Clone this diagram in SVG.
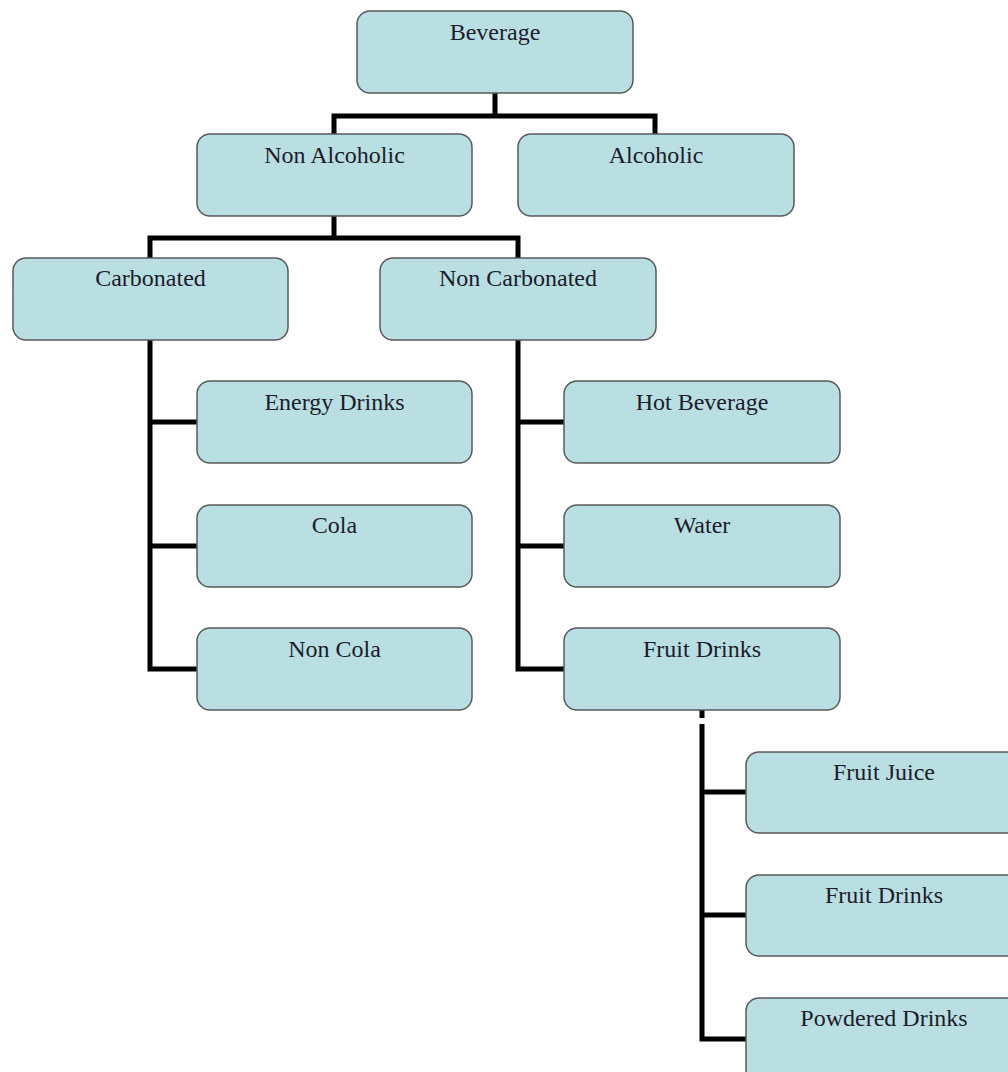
<svg xmlns="http://www.w3.org/2000/svg" width="1008" height="1072" viewBox="0 0 1008 1072">
<style>
.box{fill:#b9dfe3;stroke:#5a5a5a;stroke-width:1.5}
.lbl{font-family:'Liberation Serif','DejaVu Serif',serif;font-size:24px;fill:#1c1c2a;text-anchor:middle}
.con{fill:none;stroke:#000;stroke-width:5;stroke-linejoin:miter;stroke-linecap:butt}
</style>
<rect width="1008" height="1072" fill="#fff"/>
<g id="connectors">
<path class="con" d="M495 93 V116 M334 134 V116 H655 V134"/>
<path class="con" d="M334 216 V238 M150 258 V238 H518 V258"/>
<path class="con" d="M150 340 V669 H197 M150 422 H197 M150 546 H197"/>
<path class="con" d="M518 340 V669 H564 M518 422 H564 M518 546 H564"/>
<path class="con" d="M702 710 V718 M702 724 V1039 H746 M702 792 H746 M702 915 H746"/>
</g>
<g id="beverage"><rect class="box" x="357" y="11" width="276" height="82" rx="13"/><text class="lbl" x="495" y="40" font-family="Liberation Serif, serif">Beverage</text></g>
<g id="non-alcoholic"><rect class="box" x="197" y="134" width="275" height="82" rx="13"/><text class="lbl" x="334.5" y="163">Non Alcoholic</text></g>
<g id="alcoholic"><rect class="box" x="518" y="134" width="276" height="82" rx="13"/><text class="lbl" x="656" y="163">Alcoholic</text></g>
<g id="carbonated"><rect class="box" x="13" y="258" width="275" height="82" rx="13"/><text class="lbl" x="150.5" y="286">Carbonated</text></g>
<g id="non-carbonated"><rect class="box" x="380" y="258" width="276" height="82" rx="13"/><text class="lbl" x="518" y="286">Non Carbonated</text></g>
<g id="energy-drinks"><rect class="box" x="197" y="381" width="275" height="82" rx="13"/><text class="lbl" x="334.5" y="410">Energy Drinks</text></g>
<g id="cola"><rect class="box" x="197" y="505" width="275" height="82" rx="13"/><text class="lbl" x="334.5" y="533">Cola</text></g>
<g id="non-cola"><rect class="box" x="197" y="628" width="275" height="82" rx="13"/><text class="lbl" x="334.5" y="657">Non Cola</text></g>
<g id="hot-beverage"><rect class="box" x="564" y="381" width="276" height="82" rx="13"/><text class="lbl" x="702" y="410">Hot Beverage</text></g>
<g id="water"><rect class="box" x="564" y="505" width="276" height="82" rx="13"/><text class="lbl" x="702" y="533">Water</text></g>
<g id="fruit-drinks"><rect class="box" x="564" y="628" width="276" height="82" rx="13"/><text class="lbl" x="702" y="657">Fruit Drinks</text></g>
<g id="fruit-juice"><rect class="box" x="746" y="752" width="276" height="81" rx="13"/><text class="lbl" x="884" y="780">Fruit Juice</text></g>
<g id="fruit-drinks-2"><rect class="box" x="746" y="875" width="276" height="81" rx="13"/><text class="lbl" x="884" y="903">Fruit Drinks</text></g>
<g id="powdered-drinks"><rect class="box" x="746" y="998" width="276" height="90" rx="13"/><text class="lbl" x="884" y="1026">Powdered Drinks</text></g>
</svg>
